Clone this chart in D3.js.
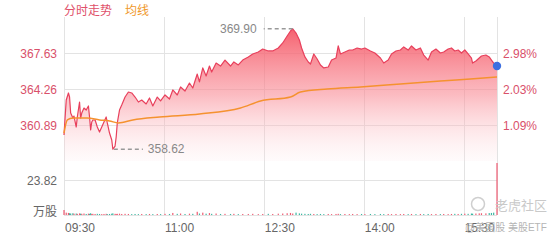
<!DOCTYPE html>
<html>
<head>
<meta charset="utf-8">
<script src="https://cdn.jsdelivr.net/npm/d3@7"></script>
<style>
  body { margin: 0; background: #fff; }
  svg { display: block; font-family: "Liberation Sans", "Noto Sans CJK SC", sans-serif; }
</style>
</head>
<body>
<svg width="560" height="240"></svg>
<script>
// intraday samples (time, price, volume in 万股)
var times = ["09:30","09:32","09:34","09:35","09:36","09:38","09:39","09:41","09:42","09:44",
  "09:45","09:46","09:48","09:50","09:52","09:53","09:54","09:55","09:56","09:58",
  "10:00","10:02","10:04","10:06","10:08","10:09","10:11","10:13","10:14","10:16",
  "10:17","10:18","10:20","10:22","10:25","10:28","10:31","10:34","10:37","10:40",
  "10:44","10:47","10:50","10:54","10:57","11:01","11:05","11:08","11:12","11:15",
  "11:19","11:23","11:26","11:30","11:32","11:35","11:38","11:41","11:43","11:47",
  "11:51","11:55","12:00","12:03","12:07","12:11","12:16","12:20","12:25","12:29",
  "12:34","12:38","12:43","12:47","12:51","12:54","12:56","12:59","13:02","13:04",
  "13:07","13:10","13:12","13:15","13:18","13:21","13:24","13:28","13:31","13:35",
  "13:37","13:39","13:43","13:47","13:50","13:54","13:58","14:01","14:06","14:10",
  "14:15","14:18","14:22","14:25","14:29","14:33","14:36","14:40","14:43","14:47",
  "14:51","14:54","14:58","15:01","15:05","15:09","15:12","15:16","15:19","15:22",
  "15:25","15:28","15:31","15:34","15:37","15:38","15:41","15:44","15:46","15:50",
  "15:53","15:55","15:57","16:00"];
var prices = [359.95,363.23,363.89,363.51,362.01,361.54,361.73,360.70,361.64,363.04,
  361.54,362.01,362.48,362.29,362.67,361.64,360.42,361.17,361.36,361.36,
  360.70,360.23,360.70,361.17,361.64,361.08,360.14,359.49,358.62,358.92,
  359.77,361.08,362.29,362.76,363.51,363.98,363.89,363.51,363.04,363.23,
  362.86,363.42,362.67,363.51,363.14,363.70,363.32,364.17,363.70,364.45,
  364.07,364.82,364.35,365.66,364.92,366.23,365.48,366.41,365.85,366.69,
  366.41,366.97,366.41,366.79,366.51,366.97,367.26,367.54,367.72,368.00,
  367.82,367.82,368.10,368.57,369.22,369.69,369.90,369.50,368.85,368.10,
  367.26,366.79,366.60,367.54,367.07,366.51,366.23,366.32,366.97,367.16,
  368.29,367.54,367.72,367.91,367.91,368.10,368.00,368.10,367.82,367.63,
  367.16,366.69,366.97,367.54,367.82,367.91,368.20,367.91,368.29,367.91,
  368.10,367.44,366.97,367.72,368.00,367.63,367.72,368.00,368.10,367.82,
  367.91,367.63,367.91,367.54,367.16,366.69,366.88,367.16,367.35,367.44,
  367.26,366.97,366.69,366.41];
var volumes = [3.4,1.6,1.4,1.2,1.0,1.2,0.9,1.0,0.8,1.1,
  0.9,0.8,1.0,0.7,0.9,0.8,1.2,0.7,0.8,0.7,
  0.8,0.7,0.6,0.7,0.8,0.6,0.7,0.9,1.1,0.8,
  0.7,0.8,0.9,0.7,0.8,0.7,0.6,0.7,0.6,0.7,
  0.6,0.7,0.6,0.7,0.6,0.8,0.7,1.4,0.8,1.0,
  0.7,0.9,0.8,2.2,1.0,1.6,0.9,1.3,0.8,1.0,
  0.7,0.8,0.7,0.8,0.6,0.7,0.7,0.8,0.6,0.7,
  0.8,0.7,0.9,1.0,1.2,1.4,1.0,1.6,1.1,0.9,
  0.8,0.7,0.8,0.7,0.6,0.7,0.6,0.7,0.6,0.7,
  0.8,0.6,0.7,0.6,0.7,0.6,0.7,0.6,0.7,0.6,
  0.7,0.6,0.7,0.6,0.7,0.6,0.7,0.6,0.7,0.6,
  0.7,0.6,0.7,0.6,0.7,0.6,0.7,0.6,0.7,0.8,
  0.7,0.8,0.9,0.8,1.0,0.9,1.0,1.1,1.2,1.1,
  1.3,1.4,1.6,35.4];
// closing auction bar is shown as buy side
var closeAuctionUp = true;
var avgTimes = ["09:30","09:33","09:38","09:51","10:02","10:11","10:19","10:32","10:56","11:32",
  "12:09","12:27","12:54","13:03","13:27","13:57","14:33","15:09","15:36","16:00"];
var avgPrices = [360.14,361.36,361.54,361.54,361.36,361.27,361.08,361.36,361.64,361.92,
  362.48,363.14,363.51,363.98,364.26,364.45,364.73,365.01,365.20,365.38];

var timeTicks = ["09:30","11:00","12:30","14:00","15:30"];
var priceTicks = [360.89, 364.26, 367.63];
var pctTicks = ["1.09%", "2.03%", "2.98%"];
var volTicks = [23.82];
var prevClose = 357.00;
var priceMax = 369.90, priceMin = 358.62;

var svg = d3.select("svg");
var parse = d3.timeParse("%H:%M");

var left = 64, right = 497;
var x = d3.scaleTime()
    .domain([parse("09:30"), parse("16:00")])
    .range([left, right]);

var y = d3.scaleLinear()
    .domain([357.52, 371.00])
    .range([161, 17]);

var yv = d3.scaleLinear()
    .domain([0, 35.4])
    .range([215, 163]);

var data = times.map(function(t, i) {
  var up = i == 0 || prices[i] >= prices[i - 1];
  if (i == times.length - 1) up = closeAuctionUp;
  return {t: parse(t), p: prices[i], v: volumes[i], up: up};
});
var avg = avgTimes.map(function(t, i) { return {t: parse(t), p: avgPrices[i]}; });

// gradient for area
var defs = svg.append("defs");
var grad = defs.append("linearGradient")
    .attr("id", "fillGrad")
    .attr("gradientUnits", "userSpaceOnUse")
    .attr("x1", 0).attr("x2", 0)
    .attr("y1", y(priceMax)).attr("y2", 161);
grad.append("stop").attr("offset", "0%").attr("stop-color", "#f4505f").attr("stop-opacity", 0.9);
grad.append("stop").attr("offset", "50%").attr("stop-color", "#f98e98").attr("stop-opacity", 0.6);
grad.append("stop").attr("offset", "100%").attr("stop-color", "#fde3e6").attr("stop-opacity", 0.15);

// grid
var grid = svg.append("g").attr("stroke", "#e3e3e3").attr("stroke-width", 1);
timeTicks.concat(["16:00"]).forEach(function(t) {
  var xx = Math.round(x(parse(t))) + 0.5;
  grid.append("line").attr("x1", xx).attr("x2", xx).attr("y1", 17).attr("y2", 215);
});
priceTicks.forEach(function(p) {
  var yy = Math.round(y(p)) + 0.5;
  grid.append("line").attr("x1", left).attr("x2", right).attr("y1", yy).attr("y2", yy);
});
volTicks.forEach(function(v) {
  var yy = Math.round(yv(v)) + 0.5;
  grid.append("line").attr("x1", left).attr("x2", right).attr("y1", yy).attr("y2", yy);
});
grid.append("line").attr("x1", left).attr("x2", right).attr("y1", 215.5).attr("y2", 215.5);

// price area + line
var area = d3.area()
    .x(function(d) { return x(d.t); })
    .y0(161)
    .y1(function(d) { return y(d.p); });
svg.append("path").datum(data)
    .attr("fill", "url(#fillGrad)")
    .attr("d", area);

var line = d3.line()
    .x(function(d) { return x(d.t); })
    .y(function(d) { return y(d.p); });
svg.append("path").datum(data)
    .attr("fill", "none")
    .attr("stroke", "#e8405c")
    .attr("stroke-width", 1.2)
    .attr("stroke-linejoin", "round")
    .attr("d", line);

svg.append("path").datum(avg)
    .attr("fill", "none")
    .attr("stroke", "#f5922f")
    .attr("stroke-width", 1.5)
    .attr("d", d3.line().curve(d3.curveMonotoneX)
      .x(function(d) { return x(d.t); })
      .y(function(d) { return y(d.p); }));

// volume bars
svg.append("g").selectAll("rect")
  .data(data)
  .enter().append("rect")
    .attr("x", function(d) { return x(d.t) - 0.6; })
    .attr("width", 1.2)
    .attr("y", function(d) { return yv(d.v); })
    .attr("height", function(d) { return 215 - yv(d.v); })
    .attr("fill", function(d) { return d.up ? "#ef5b72" : "#3cb8a2"; });

// last point
var last = data[data.length - 1];
svg.append("circle")
    .attr("cx", x(last.t)).attr("cy", y(last.p)).attr("r", 4.2)
    .attr("fill", "#3d6fe0");

// max / min markers
var maxD = data.filter(function(d) { return d.p == priceMax; })[0];
var minD = data.filter(function(d) { return d.p == priceMin; })[0];
var mk = svg.append("g").attr("stroke", "#999").attr("stroke-width", 1.6).attr("stroke-dasharray", "4,3");
mk.append("line").attr("x1", x(maxD.t)).attr("x2", x(maxD.t) - 29)
    .attr("y1", y(maxD.p)).attr("y2", y(maxD.p));
mk.append("line").attr("x1", x(minD.t) + 1).attr("x2", x(minD.t) + 30)
    .attr("y1", y(minD.p)).attr("y2", y(minD.p));
svg.append("text").attr("x", x(maxD.t) - 36).attr("y", y(maxD.p) + 4)
    .attr("text-anchor", "end").attr("font-size", 12).attr("fill", "#888")
    .text(priceMax.toFixed(2));
svg.append("text").attr("x", x(minD.t) + 35).attr("y", y(minD.p) + 4)
    .attr("font-size", 12).attr("fill", "#888")
    .text(priceMin.toFixed(2));

// axis labels
var labels = svg.append("g").attr("font-size", 12);
priceTicks.forEach(function(p, i) {
  labels.append("text").attr("x", 57).attr("y", y(p) + 4.5)
      .attr("text-anchor", "end").attr("fill", "#d9506a").text(p.toFixed(2));
  labels.append("text").attr("x", 503).attr("y", y(p) + 4.5)
      .attr("fill", "#d9506a").text(pctTicks[i]);
});
volTicks.forEach(function(v) {
  labels.append("text").attr("x", 57).attr("y", yv(v) + 4.5)
      .attr("text-anchor", "end").attr("fill", "#666").text(v.toFixed(2));
});
labels.append("text").attr("x", 57).attr("y", 216)
    .attr("text-anchor", "end").attr("fill", "#666").text("万股");
timeTicks.forEach(function(t) {
  labels.append("text").attr("x", x(parse(t)) + 1).attr("y", 232)
      .attr("fill", "#666").text(t);
});

// title
svg.append("text").attr("x", 64).attr("y", 15).attr("font-size", 12)
    .attr("fill", "#e0506a").text("分时走势");
svg.append("text").attr("x", 125).attr("y", 15).attr("font-size", 12)
    .attr("fill", "#f0982a").text("均线");

// watermark
var wm = svg.append("g").attr("fill", "#c9c9c9");
wm.append("circle").attr("cx", 478).attr("cy", 204).attr("r", 6.5)
    .attr("fill", "none").attr("stroke", "#cfcfcf").attr("stroke-width", 1.5);
wm.append("text").attr("x", 495).attr("y", 210).attr("font-size", 13).text("老虎社区");
wm.append("text").attr("x", 465).attr("y", 231).attr("font-size", 10).attr("fill", "#b5b5b5")
    .text("@美国股 美股ETF");
</script>
</body>
</html>
